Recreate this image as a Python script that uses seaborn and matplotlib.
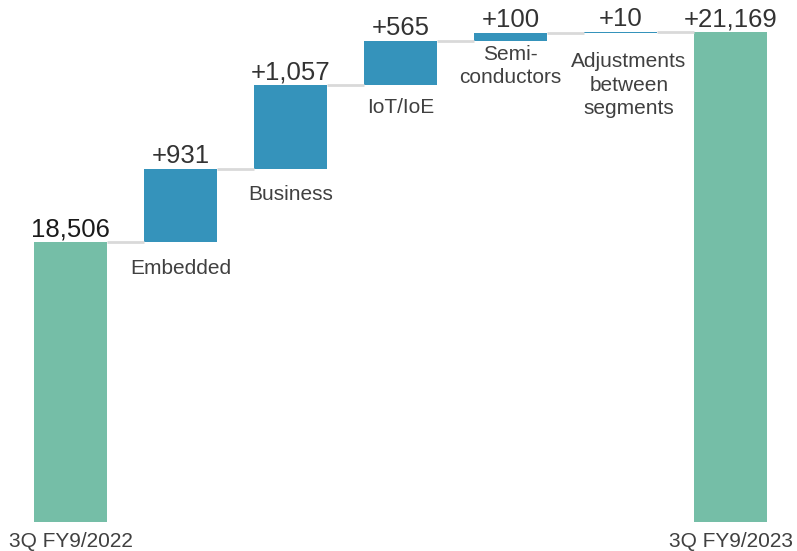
import numpy as np
import pandas as pd
import seaborn as sns
import matplotlib.pyplot as plt

# --------------------------- DATA ---------------------------
steps = ["start", "Embedded", "Business", "IoT/IoE", "Semiconductors", "Adjustments", "end"]
step_labels = ["3Q FY9/2022", "Embedded", "Business", "IoT/IoE",
               "Semi-\nconductors", "Adjustments\nbetween\nsegments", "3Q FY9/2023"]
start_value = 18506
deltas = [931, 1057, 565, 100, 10]
end_value = 21169
value_labels = ["18,506", "+931", "+1,057", "+565", "+100", "+10", "+21,169"]

# --------------------------- STYLE ---------------------------
green = "#75bea7"
blue = "#3593bb"
line_grey = "#d9d9d9"
text_grey = "#404040"
axis_floor = 14955          # where the total bars start (y axis is cut)
label_pad = [0, 12, 12, 9, 3, 14, 0]   # points below floating bars

sns.set_theme(style="white")
plt.rcParams["font.family"] = ["Liberation Sans", "DejaVu Sans"]

# --------------------------- WATERFALL TABLE ---------------------------
tops = np.cumsum([start_value] + deltas).tolist() + [end_value]
bottoms = [axis_floor] + tops[:-2] + [axis_floor]
df = pd.DataFrame({"step": steps, "top": tops, "bottom": bottoms})
df["height"] = df["top"] - df["bottom"]

fig = plt.figure(figsize=(7.97, 5.51), dpi=100)
ax = fig.add_axes([0, 0, 1, 1])

sns.barplot(data=df, x="step", y="height", order=steps, bottom=df["bottom"].values,
            color=blue, saturation=1, width=0.66, errorbar=None, ax=ax, linewidth=0)
for i, p in enumerate(ax.patches):
    p.set_facecolor(green if i in (0, len(steps) - 1) else blue)

# connector lines between bars
half = 0.33
for i in range(len(steps) - 1):
    ax.hlines(df["top"][i], i + half, i + 1 - half, color=line_grey, lw=2, zorder=1)

# value labels above bars
for i, row in df.iterrows():
    col = "#1a1a1a" if i == 0 else "#333333"
    ax.annotate(value_labels[i], (i, row["top"]), xytext=(0, 4), textcoords="offset points",
                ha="center", va="baseline", fontsize=18.5, color=col)

# category labels
for i, row in df.iterrows():
    if i in (0, len(steps) - 1):
        ax.annotate(step_labels[i], (i, axis_floor), xytext=(0, -7), textcoords="offset points",
                    ha="center", va="top", fontsize=15, color=text_grey)
    else:
        dx = 6 if i == 5 else 0
        ax.annotate(step_labels[i], (i, row["bottom"]), xytext=(dx, -label_pad[i]),
                    textcoords="offset points", ha="center", va="top", fontsize=15,
                    color=text_grey, linespacing=1.3)

ax.set_xlim(-0.641, 6.604)
ax.set_ylim(14587, 21574)
ax.axis("off")

fig.savefig("out.png", dpi=100)
